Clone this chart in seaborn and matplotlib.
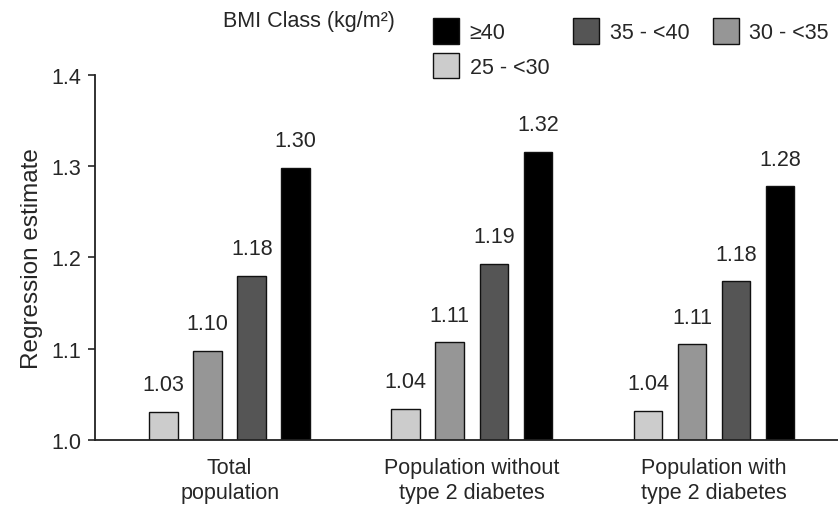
import numpy as np
import pandas as pd
import matplotlib
matplotlib.use("Agg")
import matplotlib.pyplot as plt
from matplotlib.patches import Patch
import seaborn as sns

groups = ["Total\npopulation", "Population without\ntype 2 diabetes", "Population with\ntype 2 diabetes"]
bmi_classes = ["25 - <30", "30 - <35", "35 - <40", "\u226540"]
# bar heights, one list per BMI class
h_25_30 = [1.031, 1.034, 1.032]
h_30_35 = [1.098, 1.107, 1.105]
h_35_40 = [1.180, 1.193, 1.174]
h_40 = [1.298, 1.316, 1.278]
# printed labels above the bars
lab_25_30 = ["1.03", "1.04", "1.04"]
lab_30_35 = ["1.10", "1.11", "1.11"]
lab_35_40 = ["1.18", "1.19", "1.18"]
lab_40 = ["1.30", "1.32", "1.28"]
colors = ["#cccccc", "#969696", "#555555", "#000000"]

heights = [h_25_30, h_30_35, h_35_40, h_40]
labels = [lab_25_30, lab_30_35, lab_35_40, lab_40]
rows = []
for c, hs, ls in zip(bmi_classes, heights, labels):
    for g, h, l in zip(groups, hs, ls):
        rows.append({"group": g, "bmi": c, "value": h, "label": l})
df = pd.DataFrame(rows)

sns.set_style("white")
plt.rcParams['font.family'] = ['Liberation Sans', 'DejaVu Sans']
plt.rcParams['font.size'] = 15.5

fig = plt.figure(figsize=(8.38, 5.06), dpi=100)
ax = fig.add_axes([95 / 838, 65 / 506, 1 - 95 / 838, 365 / 506])

sns.barplot(data=df, x="group", y="value", hue="bmi", order=groups, hue_order=bmi_classes,
            palette=colors, width=0.728, gap=0.35, edgecolor="#111111", linewidth=1.0,
            legend=False, ax=ax, bottom=0)

# value labels
for cont, c in zip(ax.containers, bmi_classes):
    sub = df[df.bmi == c].set_index("group").loc[groups]
    for bar, l in zip(cont, sub["label"]):
        ax.annotate(l, (bar.get_x() + bar.get_width() / 2, bar.get_height()),
                    xytext=(0, 12), textcoords="offset points",
                    ha="center", va="bottom", fontsize=15.5)

ax.set_ylim(1.0, 1.4)
ax.set_xlim(-0.556, 2.512)
ax.set_yticks(np.arange(1.0, 1.41, 0.1))
ax.set_yticklabels(["1.0", "1.1", "1.2", "1.3", "1.4"])
ax.set_ylabel("Regression estimate", fontsize=17.5, labelpad=6)
ax.set_xlabel("")
ax.tick_params(axis="y", length=5, width=1.2, direction="out", pad=5, left=True)
ax.tick_params(axis="x", length=0, pad=12)
for s in ["top", "right"]:
    ax.spines[s].set_visible(False)
for s in ["left", "bottom"]:
    ax.spines[s].set_color("#222222")
    ax.spines[s].set_linewidth(1.3)
for t in ax.get_xticklabels():
    t.set_linespacing(1.25)

# legend: row-wise order >=40, 35-<40, 30-<35 / 25-<30
order = [3, 0, 2, 1]
handles = [Patch(facecolor=colors[i], edgecolor="#111111", linewidth=1.0, label=bmi_classes[i]) for i in order]
fig.legend(handles=handles, loc="upper left", bbox_to_anchor=(418 / 838, 1 - 4 / 506), ncol=3,
           frameon=False, handlelength=1.2, handleheight=1.45, handletextpad=0.5,
           columnspacing=1.1, labelspacing=0.42, borderpad=0.2, fontsize=15.5)
fig.text(223 / 838, 1 - 22 / 506, "BMI Class (kg/m\u00b2)", ha="left", va="center", fontsize=15.5)

fig.savefig("out.png", dpi=100)
